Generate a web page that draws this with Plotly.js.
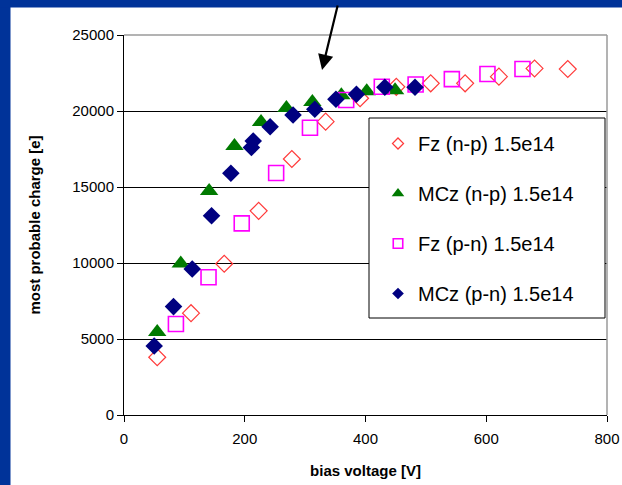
<!DOCTYPE html>
<html>
<head>
<meta charset="utf-8">
<script src="https://cdn.plot.ly/plotly-3.0.1.min.js"></script>
<style>html,body{margin:0;padding:0;background:#fff;}#chart{width:622px;height:485px;}</style>
</head>
<body>
<div id="chart"></div>
<script>
// ---- data ----
var fzNpV = [55, 111, 166, 223, 278, 334, 391, 451, 508, 565, 621, 680, 735];
var fzNpQ = [3800, 6700, 9950, 13430, 16840, 19300, 20840, 21590, 21820, 21820, 22260, 22800, 22760];

var mczNpV = [55, 94, 141, 183, 227, 269, 312, 360, 402, 449];
var mczNpQ = [5460, 9960, 14740, 17700, 19280, 20200, 20590, 21030, 21300, 21360];

var fzPnV = [86, 140, 195, 252, 308, 368, 427, 483, 543, 602, 660];
var fzPnQ = [5990, 9060, 12610, 15920, 18900, 20720, 21600, 21740, 22100, 22430, 22760];

var mczPnV = [50, 82, 113, 145, 177, 211, 214, 242, 280, 316, 351, 385, 432, 482];
var mczPnQ = [4540, 7130, 9610, 13110, 15900, 17600, 18030, 18970, 19740, 20110, 20770, 21100, 21560, 21560];

var seriesNames = ['Fz (n-p) 1.5e14', 'MCz (n-p) 1.5e14', 'Fz (p-n) 1.5e14', 'MCz (p-n) 1.5e14'];
var xTitle = 'bias voltage [V]';
var yTitle = 'most probable charge [e]';

var FONT = 'Liberation Sans, Arial, sans-serif';

var styles = [
  {symbol: 'diamond-open', size: 13, color: '#ff3a3a', line: {width: 1.2, color: '#ff3a3a'}},
  {symbol: 'triangle-up', size: 16, color: '#007a00', line: {width: 0}},
  {symbol: 'square-open', size: 15, color: '#ff00ff', line: {width: 1.6, color: '#ff00ff'}},
  {symbol: 'diamond', size: 13.5, color: '#000080', line: {width: 0}}
];
var legendSizes = [8.5, 11, 9.5, 9];
var xs = [fzNpV, mczNpV, fzPnV, mczPnV];
var ys = [fzNpQ, mczNpQ, fzPnQ, mczPnQ];
var groups = ['a', 'b', 'c', 'd'];

var traces = [];
for (var i = 0; i < 4; i++) {
  traces.push({x: xs[i], y: ys[i], name: seriesNames[i], mode: 'markers', type: 'scatter',
               legendgroup: groups[i], showlegend: false, marker: styles[i]});
}
// legend-only entries (no data, smaller Excel-like legend symbols)
for (var j = 0; j < 4; j++) {
  var m = JSON.parse(JSON.stringify(styles[j]));
  m.size = legendSizes[j];
  traces.push({x: [null], y: [null], name: seriesNames[j], mode: 'markers', type: 'scatter',
               legendgroup: groups[j], showlegend: true, marker: m, hoverinfo: 'skip'});
}
traces.push({x: [], y: [], yaxis: 'y2', showlegend: false, type: 'scatter', mode: 'markers', hoverinfo: 'skip'});

var L = 124, R = 607, T = 35, B = 415, W = 622, H = 485;
function px(p) { return (p - L) / (R - L); }
function py(p) { return (B - p) / (B - T); }

var layout = {
  width: W, height: H,
  margin: {l: L, r: W - R, t: T, b: H - B, pad: 0},
  paper_bgcolor: '#ffffff', plot_bgcolor: '#ffffff',
  font: {family: FONT, color: '#000'},
  showlegend: true,
  xaxis: {
    range: [0, 800], dtick: 200, tick0: 0, showgrid: false, zeroline: false,
    showline: true, linecolor: '#000', linewidth: 1,
    ticks: 'outside', ticklen: 6, tickcolor: '#000', tickwidth: 1, ticklabelstandoff: 4,
    tickfont: {family: FONT, size: 15, color: '#000'},
    title: {text: '<b>' + xTitle + '</b>', font: {family: FONT, size: 15, color: '#000'}, standoff: 19}
  },
  yaxis: {
    range: [0, 25000], dtick: 5000, tick0: 0, tickformat: 'd',
    showgrid: true, gridcolor: '#000', gridwidth: 1, zeroline: false,
    showline: true, linecolor: '#000', linewidth: 1,
    ticks: 'outside', ticklen: 6, tickcolor: '#000', tickwidth: 1,
    tickfont: {family: FONT, size: 15, color: '#000'},
    title: {text: '<b>' + yTitle + '</b>', font: {family: FONT, size: 15, color: '#000'}, standoff: 28}
  },
  yaxis2: {
    overlaying: 'y', matches: 'y', side: 'left', range: [0, 25000], dtick: 5000,
    showgrid: false, zeroline: false, showline: false, showticklabels: false,
    ticks: 'inside', ticklen: 5, tickcolor: '#000', tickwidth: 1
  },
  legend: {
    x: px(378), y: py(124), xanchor: 'left', yanchor: 'top',
    bgcolor: 'rgba(0,0,0,0)', borderwidth: 0,
    traceorder: 'grouped', tracegroupgap: 21, itemsizing: 'trace',
    font: {family: FONT, size: 20, color: '#000'}
  },
  shapes: [
    // blue slide frame
    {type: 'rect', xref: 'paper', yref: 'paper', x0: -0.3, x1: px(10.5), y0: -0.3, y1: 1.3,
     fillcolor: '#003399', line: {width: 0}, layer: 'below'},
    {type: 'rect', xref: 'paper', yref: 'paper', x0: -0.3, x1: 1.3, y0: py(7.5), y1: 1.3,
     fillcolor: '#003399', line: {width: 0}, layer: 'below'},
    // grey plot-area border (top, right)
    {type: 'line', xref: 'paper', yref: 'paper', x0: 0, x1: 1, y0: 1, y1: 1,
     line: {color: '#9a9a9a', width: 1.5}, layer: 'above'},
    {type: 'line', xref: 'paper', yref: 'paper', x0: 1, x1: 1, y0: 0, y1: 1,
     line: {color: '#9a9a9a', width: 1.5}, layer: 'above'},
    // legend frame
    {type: 'rect', xref: 'paper', yref: 'paper', x0: px(369), x1: px(605), y0: py(318), y1: py(118),
     fillcolor: '#ffffff', line: {color: '#000', width: 1}, layer: 'above'}
  ],
  annotations: [
    {x: 328, y: 22700, xref: 'x', yref: 'y', ax: 16, ay: -66, text: '',
     showarrow: true, arrowhead: 2, arrowsize: 1.4, arrowwidth: 2.2, arrowcolor: '#000'}
  ]
};

Plotly.newPlot('chart', traces, layout, {displayModeBar: false, staticPlot: true});
</script>
</body>
</html>
